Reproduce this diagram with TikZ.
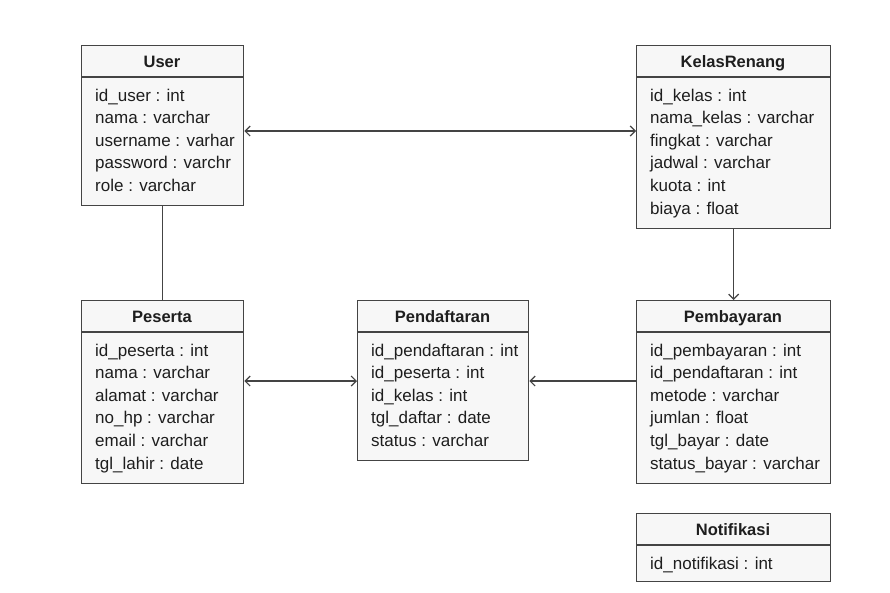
\documentclass[tikz,border=0pt]{standalone}
\usepackage{fontspec}
\setmainfont{Liberation Sans}
\usetikzlibrary{arrows.meta}
\definecolor{ink}{HTML}{444444}
\definecolor{boxfill}{HTML}{F7F7F7}
\definecolor{txt}{HTML}{1E1E1E}
\tikzset{
  box/.style={draw=ink, line width=1.3pt, fill=boxfill, inner sep=0pt, rectangle},
  sep/.style={draw=ink, line width=1.3pt},
  ttl/.style={anchor=base, inner sep=0pt, text=txt, font=\fontsize{16.5}{18}\selectfont\bfseries},
  rowtxt/.style={anchor=base west, inner sep=0pt, text=txt, font=\fontsize{17}{20}\selectfont},
  conn/.style={draw=ink, line width=1.2pt},
  tip/.style={arrows={-Straight Barb[length=5pt,width=10pt,line width=1.2pt]}},
  tipboth/.style={arrows={Straight Barb[length=5pt,width=10pt,line width=1.2pt]-Straight Barb[length=5pt,width=10pt,line width=1.2pt]}}
}
\newcommand\entity[7]{%
  \node[box, minimum width=#4pt, minimum height=#5pt, anchor=north west] (#1) at (#2,#3) {};
  \draw[sep] (#2,#3+32) -- (#2+#4,#3+32);
  \node[ttl] (#1-t) at (#2+#4/2,#3+22) {#6};
  \foreach \t [count=\i] in {#7} {
    \node[rowtxt] (#1-r\i) at (#2+14,#3+56+22.6*\i-22.6) {\t};
  }
}
\begin{document}
\begin{tikzpicture}[x=1pt,y=-1pt]
\fill[white] (0,0) rectangle (890,592);
\useasboundingbox (0,0) rectangle (890,592);
\entity{user}{81}{45}{162}{160}{User}{id\_user : int, nama : varchar, username : varhar, password : varchr, role : varchar}
\entity{kelas}{636}{45}{194}{183}{KelasRenang}{id\_kelas : int, nama\_kelas : varchar, fingkat : varchar, jadwal : varchar, kuota : int, biaya : float}
\entity{peserta}{81}{300}{162}{183}{Peserta}{id\_peserta : int, nama : varchar, alamat : varchar, no\_hp : varchar, email : varchar, tgl\_lahir : date}
\entity{daftar}{357}{300}{171}{160}{Pendaftaran}{id\_pendaftaran : int, id\_peserta : int, id\_kelas : int, tgl\_daftar : date, status : varchar}
\entity{bayar}{636}{300}{194}{183}{Pembayaran}{id\_pembayaran : int, id\_pendaftaran : int, metode : varchar, jumlan : float, tgl\_bayar : date, status\_bayar : varchar}
\entity{notif}{636}{513}{194}{68}{Notifikasi}{id\_notifikasi : int}
\draw[conn, tipboth] (user.east |- 0,131) -- (kelas.west |- 0,131);
\draw[conn] (user.south) -- (peserta.north);
\draw[conn, tip] (kelas.south) -- (bayar.north);
\draw[conn, tipboth] (peserta.east |- 0,381) -- (daftar.west |- 0,381);
\draw[conn, tip] (bayar.west |- 0,381) -- (daftar.east |- 0,381);
\end{tikzpicture}
\end{document}
